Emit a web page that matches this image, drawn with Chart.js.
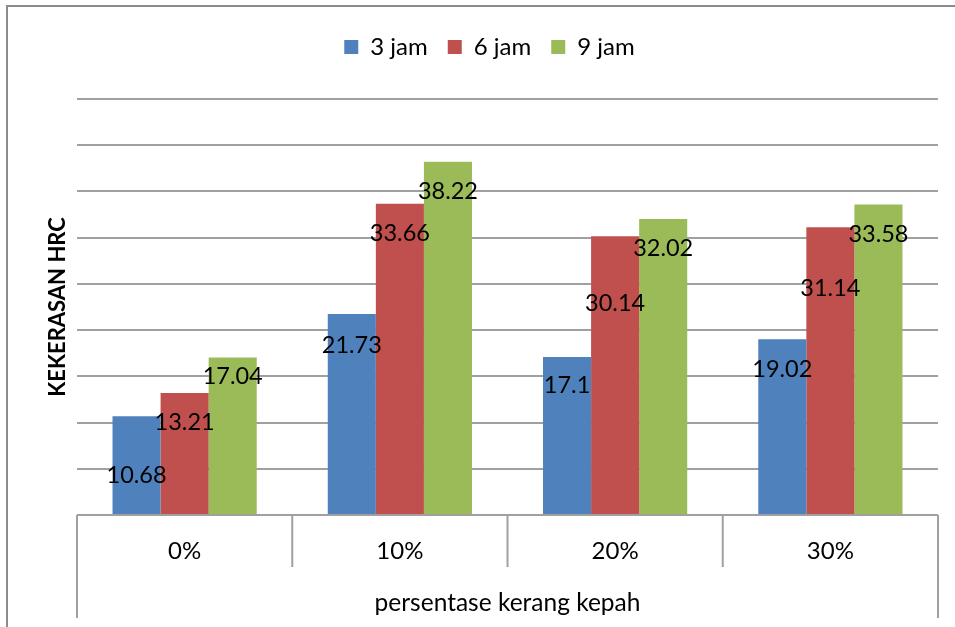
<!DOCTYPE html>
<html>
<head>
<meta charset="utf-8">
<script src="https://cdn.jsdelivr.net/npm/chart.js@4.4.1/dist/chart.umd.min.js"></script>
<style>
  html, body { margin: 0; padding: 0; background: #ffffff; }
  canvas { display: block; }
</style>
</head>
<body>
<canvas id="chart" width="955" height="627"></canvas>
<script>
// Hardness (HRC) by kerang kepah percentage and holding time
const categories = ['0%', '10%', '20%', '30%'];
const seriesNames = ['3 jam', '6 jam', '9 jam'];
const jam3 = [10.68, 21.73, 17.1, 19.02];
const jam6 = [13.21, 33.66, 30.14, 31.14];
const jam9 = [17.04, 38.22, 32.02, 33.58];
const yMin = 0;
const yMax = 45;
const yStep = 5;

const colors = ['#4F81BD', '#C0504D', '#9BBB59'];
const gridGray = '#a0a0a0';
const FONT = 'Lato, "Open Sans", sans-serif';

// how far below each bar top its value label sits (px)
const labelDrop = [
  [59, 31, 29, 30],
  [29.5, 30, 67, 61],
  [18.7, 29.7, 29, 29.7]
];

// value labels on the bars
const valueLabels = {
  id: 'valueLabels',
  afterDatasetsDraw(chart) {
    const ctx = chart.ctx;
    ctx.save();
    ctx.font = '23.5px ' + FONT;
    ctx.fillStyle = '#000000';
    ctx.textAlign = 'center';
    ctx.textBaseline = 'middle';
    chart.data.datasets.forEach((ds, di) => {
      const meta = chart.getDatasetMeta(di);
      meta.data.forEach((bar, i) => {
        ctx.fillText(String(ds.data[i]), bar.x, bar.y + labelDrop[di][i]);
      });
    });
    ctx.restore();
  }
};

// outer frame and the table lines under the category axis
const frame = {
  id: 'frame',
  afterDraw(chart) {
    const { ctx, chartArea: a, scales: { x } } = chart;
    ctx.save();
    ctx.strokeStyle = gridGray;
    ctx.lineWidth = 2;
    const n = categories.length;
    for (let i = 0; i <= n; i++) {
      let px;
      if (i === 0) px = a.left;
      else if (i === n) px = a.right;
      else px = (x.getPixelForValue(i - 1) + x.getPixelForValue(i)) / 2;
      const depth = (i === 0 || i === n) ? 103 : 52;
      ctx.beginPath();
      ctx.moveTo(px, a.bottom);
      ctx.lineTo(px, a.bottom + depth);
      ctx.stroke();
    }
    ctx.strokeStyle = '#8c8c8c';
    ctx.beginPath();
    ctx.moveTo(7, chart.height);
    ctx.lineTo(7, 6);
    ctx.lineTo(chart.width, 6);
    ctx.stroke();
    ctx.restore();
  }
};

// reserve a fixed band for the legend above the plot
const legendBand = {
  id: 'legendBand',
  beforeLayout(chart) {
    const lg = chart.legend;
    if (lg && !lg._banded) {
      const fit = lg.fit;
      lg.fit = function () { fit.call(this); this.height = 84; };
      lg._banded = true;
    }
  }
};

new Chart(document.getElementById('chart'), {
  type: 'bar',
  data: {
    labels: categories,
    datasets: [jam3, jam6, jam9].map((d, i) => ({
      label: seriesNames[i],
      data: d,
      backgroundColor: colors[i],
      borderWidth: 0,
      categoryPercentage: 0.67,
      barPercentage: 1.0
    }))
  },
  options: {
    responsive: false,
    animation: false,
    devicePixelRatio: 1,
    layout: { padding: { top: 15, left: 41, right: 17, bottom: 5 } },
    plugins: {
      legend: {
        position: 'top',
        labels: {
          boxWidth: 14,
          boxHeight: 14,
          padding: 20,
          color: '#000000',
          font: { family: FONT, size: 24 }
        }
      },
      tooltip: { enabled: false }
    },
    scales: {
      x: {
        grid: { display: false },
        border: { display: false },
        ticks: {
          color: '#000000',
          padding: 14,
          font: { family: FONT, size: 24 }
        },
        title: {
          display: true,
          text: 'persentase kerang kepah',
          color: '#000000',
          font: { family: FONT, size: 24.5 }
        },
        afterFit(scale) { scale.height = 107; }
      },
      y: {
        min: yMin,
        max: yMax,
        ticks: { display: false, stepSize: yStep },
        grid: { color: gridGray, lineWidth: 2, drawTicks: false },
        border: { display: false },
        title: {
          display: true,
          text: 'KEKERASAN HRC',
          color: '#000000',
          font: { family: FONT, size: 22, weight: 'bold' }
        },
        afterFit(scale) { scale.width = 36; }
      }
    }
  },
  plugins: [legendBand, valueLabels, frame]
});
</script>
</body>
</html>
